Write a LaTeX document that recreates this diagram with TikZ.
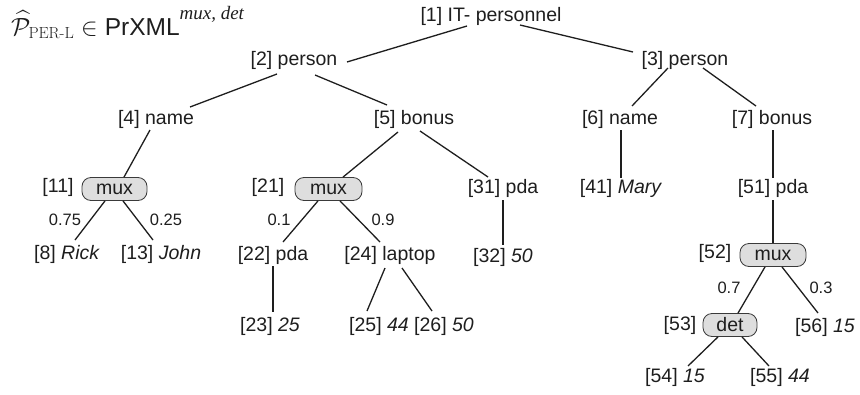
\documentclass[tikz,border=0pt]{standalone}
\usepackage{amsmath}
\usepackage[no-math]{fontspec}
\newfontfamily\arialf{Liberation Sans}
\newfontfamily\timesf{Liberation Serif}
\begin{document}
\begin{tikzpicture}[x=1pt,y=-1pt]
\definecolor{ink}{HTML}{1E1E1E}
\definecolor{boxfill}{HTML}{DEDEDE}
\definecolor{boxline}{HTML}{3A3A3A}
\tikzset{
  lbl/.style={font=\arialf\fontsize{19.5}{22}\selectfont, text=ink, inner sep=0pt, anchor=center},
  prob/.style={font=\arialf\fontsize{16.5}{18}\selectfont, text=ink, inner sep=0pt, anchor=center},
  opbox/.style={lbl, draw=boxline, fill=boxfill, line width=0.8pt, rounded corners=9pt,
                minimum height=23pt},
  edge/.style={draw=ink, line width=1.3pt}
}
\useasboundingbox (0,0) rectangle (860,394);

% heading
\node[anchor=base west, inner sep=0pt, text=ink] (title) at (11,35)
  {\fontsize{23}{26}\selectfont$\widehat{\mathcal{P}}_{\text{\rmfamily PER-L}}\in$
   {\arialf\fontsize{24.5}{27}\selectfont PrXML}\raisebox{16pt}{\timesf\itshape\fontsize{19}{21}\selectfont mux, det}};

% element nodes
\node[lbl] (n1) at (491,16) {[1] IT- personnel};
\node[lbl] (n2) at (294,60) {[2] person};
\node[lbl] (n3) at (685,60) {[3] person};
\node[lbl] (n4) at (156,119) {[4] name};
\node[lbl] (n5) at (414,119) {[5] bonus};
\node[lbl] (n6) at (620,119) {[6] name};
\node[lbl] (n7) at (772,119) {[7] bonus};

\node[lbl] (l11) at (58,187) {[11]};
\node[opbox, minimum width=65pt] (m11) at (114.5,189) {mux};
\node[lbl] (l21) at (268,187) {[21]};
\node[opbox, minimum width=67pt] (m21) at (328.5,189) {mux};
\node[lbl] (n31) at (503,188) {[31] pda};
\node[lbl] (n41) at (621,188) {[41] \textit{Mary}};
\node[lbl] (n51) at (773,188) {[51] pda};

\node[lbl] (n8) at (67,254) {[8] \textit{Rick}};
\node[lbl] (n13) at (161,254) {[13] \textit{John}};
\node[lbl] (n22) at (273,255) {[22] pda};
\node[lbl] (n24) at (390,255) {[24] laptop};
\node[lbl] (n32) at (503,257) {[32] \textit{50}};
\node[lbl] (l52) at (715,253) {[52]};
\node[opbox, minimum width=66pt] (m52) at (773,255) {mux};

\node[lbl] (n23) at (270,326) {[23] \textit{25}};
\node[lbl] (n25) at (379,326) {[25] \textit{44}};
\node[lbl] (n26) at (444,326) {[26] \textit{50}};
\node[lbl] (l53) at (680,325) {[53]};
\node[opbox, minimum width=54pt] (d53) at (730,325) {det};
\node[lbl] (n56) at (825,327) {[56] \textit{15}};

\node[lbl] (n54) at (675,377) {[54] \textit{15}};
\node[lbl] (n55) at (780,377) {[55] \textit{44}};

% probabilities
\node[prob] (p1) at (65,220) {0.75};
\node[prob] (p2) at (166,220) {0.25};
\node[prob] (p3) at (279,220) {0.1};
\node[prob] (p4) at (383,220) {0.9};
\node[prob] (p5) at (729,288) {0.7};
\node[prob] (p6) at (821,288) {0.3};

% tree edges
\path[edge] ([shift={(-24,10)}]n1.center) -- ([shift={(53,2)}]n2.center);
\path[edge] ([shift={(29,9)}]n1.center) -- ([shift={(-52,-8)}]n3.center);
\path[edge] ([shift={(-17,14)}]n2.center) -- ([shift={(34,-12)}]n4.center);
\path[edge] ([shift={(21,15)}]n2.center) -- ([shift={(-27,-14)}]n5.center);
\path[edge] ([shift={(-17,8)}]n3.center) -- ([shift={(12,-13)}]n6.center);
\path[edge] ([shift={(18,8)}]n3.center) -- ([shift={(-16,-13)}]n7.center);
\path[edge] ([shift={(-6,11)}]n4.center) -- ([shift={(9.5,0)}]m11.north);
\path[edge] ([shift={(-16,13)}]n5.center) -- ([shift={(14.5,0)}]m21.north);
\path[edge] ([shift={(6,12)}]n5.center) -- ([shift={(-15,-11)}]n31.center);
\path[edge] ([shift={(1,11)}]n6.center) -- ([shift={(0,-10)}]n41.center);
\path[edge] ([shift={(1,11)}]n7.center) -- ([shift={(0,-10)}]n51.center);
\path[edge] ([shift={(-9.5,0)}]m11.south) -- ([shift={(8,-14)}]n8.center);
\path[edge] ([shift={(8.5,0)}]m11.south) -- ([shift={(-8,-14)}]n13.center);
\path[edge] ([shift={(-10.5,0)}]m21.south) -- ([shift={(10,-13)}]n22.center);
\path[edge] ([shift={(11.5,0)}]m21.south) -- ([shift={(-10,-13)}]n24.center);
\path[edge] ([shift={(0,12)}]n31.center) -- ([shift={(0,-12)}]n32.center);
\path[edge] ([shift={(0,11)}]n22.center) -- ([shift={(3,-14)}]n23.center);
\path[edge] ([shift={(-5,13)}]n24.center) -- ([shift={(-12,-15)}]n25.center);
\path[edge] ([shift={(12,13)}]n24.center) -- ([shift={(-12,-15)}]n26.center);
\path[edge] ([shift={(0,12)}]n51.center) -- (m52.north);
\path[edge] ([shift={(-8,0)}]m52.south) -- ([shift={(8,0)}]d53.north);
\path[edge] ([shift={(9,0)}]m52.south) -- ([shift={(-7,-14)}]n56.center);
\path[edge] ([shift={(-12,0)}]d53.south) -- ([shift={(13,-11)}]n54.center);
\path[edge] ([shift={(12,0)}]d53.south) -- ([shift={(-11,-11)}]n55.center);
\end{tikzpicture}
\end{document}
